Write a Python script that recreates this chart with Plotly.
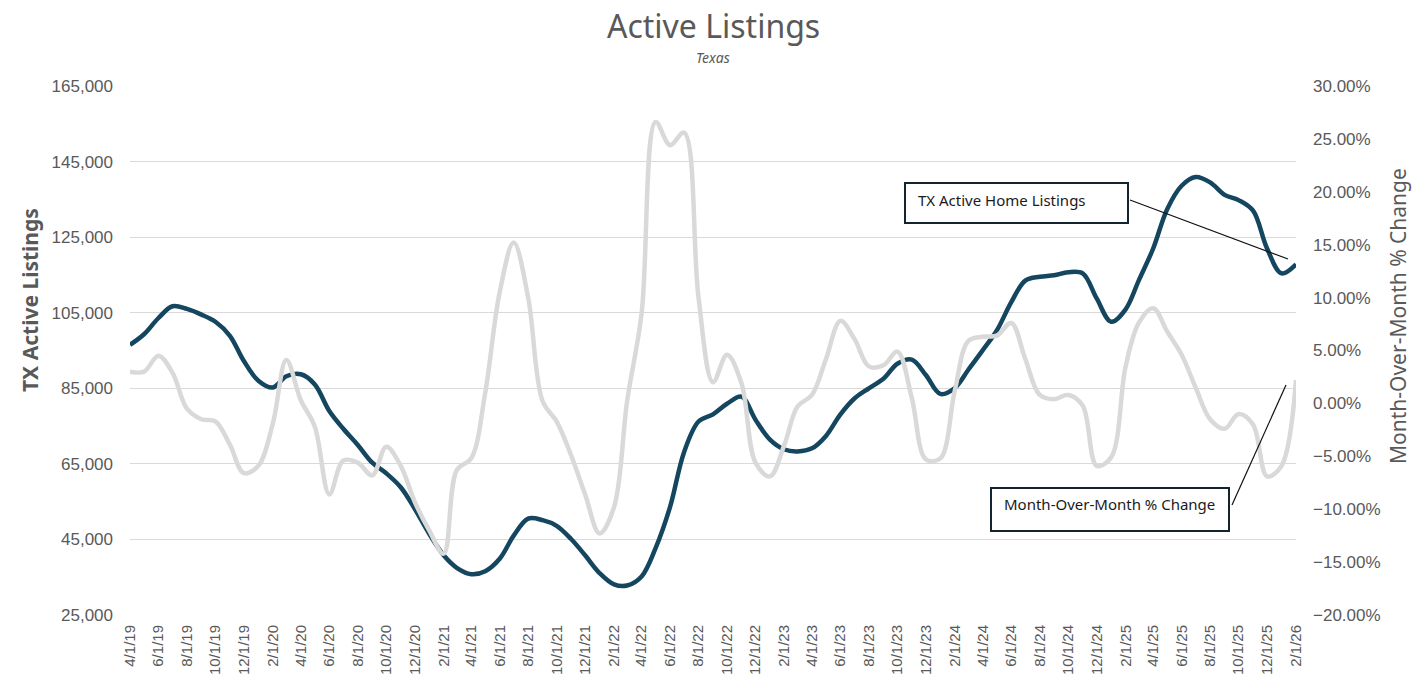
import plotly.graph_objects as go
import pandas as pd

# ---- data ----
dates = pd.date_range("2019-04-01", "2026-02-01", freq="MS")

listings = [96500, 99300, 103600, 106700, 106000, 104500, 102600, 98900, 92200, 87000,
            85200, 88200, 88700, 86000, 79000, 74300, 70000, 65300, 62500, 58800,
            53100, 46500, 40800, 37500, 35800, 36600, 39900, 46000, 50500, 50100,
            48600, 45100, 40800, 36100, 33100, 32800, 35200, 42700, 53600, 68100,
            76200, 78100, 80900, 82800, 76700, 71400, 68800, 68300, 69100, 72400,
            78100, 82300, 85000, 87500, 91500, 92600, 88500, 83500, 85100, 89900,
            95100, 100300, 107800, 113500, 114500, 114900, 115700, 115400, 108800, 102600,
            105900, 113500, 122000, 132400, 138600, 140900, 139500, 136200, 134800, 132000,
            122000, 115400, 117800]

mom_pct = [3.0, 3.0, 4.5, 2.9, -0.5, -1.5, -1.7, -3.9, -6.6, -5.9,
           -1.9, 4.1, 0.3, -2.2, -8.6, -5.4, -5.6, -6.8, -4.1, -5.9,
           -9.3, -12.0, -14.2, -6.3, -5.2, 1.0, 10.5, 15.2, 10.0, 0.2,
           -1.7, -4.9, -8.6, -12.3, -9.8, 0.2, 8.5, 26.6, 24.4, 25.6,
           10.0, 2.0, 4.6, 1.9, -5.6, -6.9, -3.9, -0.3, 0.8, 4.2,
           7.8, 6.1, 3.5, 3.6, 4.9, 0.5, -5.3, -5.2, 1.2, 5.9,
           6.3, 6.4, 7.6, 4.2, 0.8, 0.4, 0.8, -0.2, -5.9, -5.1,
           3.5, 7.6, 9.0, 6.8, 4.6, 1.5, -1.5, -2.4, -1.0, -2.0,
           -6.9, -5.9, 2.2]
mom = [v / 100 for v in mom_pct]

left_ticks = [25000, 45000, 65000, 85000, 105000, 125000, 145000, 165000]
right_ticks = [-0.20, -0.15, -0.10, -0.05, 0.0, 0.05, 0.10, 0.15, 0.20, 0.25, 0.30]
x_ticks = dates[::2]
x_ticktext = [f"{d.month}/{d.day}/{d.strftime('%y')}" for d in x_ticks]

# ---- layout constants ----
W, H = 1420, 694
L, R, T, B = 130, 1296, 86, 615
TXT = "#595959"
DARK = "#154660"
GRAY = "#d9d9d9"
TICKFONT = "Liberation Sans"
MAINFONT = "Noto Sans"


def px(xp):
    return (xp - L) / (R - L)


def py(yp):
    return (B - yp) / (B - T)


fig = go.Figure()
fig.add_trace(go.Scatter(x=dates, y=listings, mode="lines", name="TX Active Home Listings",
                         line=dict(color=DARK, width=4.5, shape="spline"), yaxis="y"))
fig.add_trace(go.Scatter(x=dates, y=mom, mode="lines", name="Month-Over-Month % Change",
                         line=dict(color=GRAY, width=4.5, shape="spline"), yaxis="y2"))

shapes = [
    dict(type="rect", xref="paper", yref="paper", x0=px(905), x1=px(1128), y0=py(223), y1=py(183),
         line=dict(color="#14242e", width=2), fillcolor="white", layer="above"),
    dict(type="rect", xref="paper", yref="paper", x0=px(991), x1=px(1229), y0=py(531), y1=py(488),
         line=dict(color="#14242e", width=2), fillcolor="white", layer="above"),
    dict(type="line", xref="paper", yref="paper", x0=px(1130), y0=py(200), x1=px(1288), y1=py(259),
         line=dict(color="#111111", width=1.2), layer="above"),
    dict(type="line", xref="paper", yref="paper", x0=px(1232), y0=py(505), x1=px(1286), y1=py(385),
         line=dict(color="#111111", width=1.2), layer="above"),
]

annotations = [
    dict(text="TX Active Home Listings", xref="paper", yref="paper", x=px(916), y=py(200),
         xanchor="left", yanchor="middle", showarrow=False,
         font=dict(family=MAINFONT, size=15, color="#1a1a1a")),
    dict(text="Month-Over-Month % Change", xref="paper", yref="paper", x=px(1002), y=py(504),
         xanchor="left", yanchor="middle", showarrow=False,
         font=dict(family=MAINFONT, size=15, color="#1a1a1a")),
    dict(text="<b>TX Active Listings</b>", xref="paper", yref="paper", x=px(30), y=py(300),
         xanchor="center", yanchor="middle", textangle=-90, showarrow=False,
         font=dict(family=MAINFONT, size=21, color=TXT)),
    dict(text="Month-Over-Month % Change", xref="paper", yref="paper", x=px(1398), y=py(316),
         xanchor="center", yanchor="middle", textangle=-90, showarrow=False,
         font=dict(family=MAINFONT, size=21, color=TXT)),
    dict(text="Active Listings", xref="paper", yref="paper", x=px(713), y=py(25),
         xanchor="center", yanchor="middle", showarrow=False,
         font=dict(family=MAINFONT, size=32, color=TXT)),
    dict(text="<i>Texas</i>", xref="paper", yref="paper", x=px(713), y=py(58),
         xanchor="center", yanchor="middle", showarrow=False,
         font=dict(family=MAINFONT, size=14, color=TXT)),
]

fig.update_layout(
    width=W, height=H,
    margin=dict(l=L, r=W - R, t=T, b=H - B, autoexpand=False),
    paper_bgcolor="white", plot_bgcolor="white",
    showlegend=False,
    shapes=shapes, annotations=annotations,
    xaxis=dict(range=[dates[0], dates[-1]], tickmode="array", tickvals=list(x_ticks),
               ticktext=x_ticktext, tickangle=-90, showgrid=False, zeroline=False,
               showline=False, ticks="", ticklabelstandoff=6,
               tickfont=dict(family=TICKFONT, size=15, color=TXT)),
    yaxis=dict(range=[25000, 165000], tickmode="array", tickvals=left_ticks,
               tickformat=",d", showgrid=True, gridcolor=GRAY, gridwidth=1,
               zeroline=False, showline=False, ticks="", ticklabelstandoff=16,
               tickfont=dict(family=TICKFONT, size=17, color=TXT)),
    yaxis2=dict(range=[-0.20, 0.30], tickmode="array", tickvals=right_ticks,
                tickformat=".2%", overlaying="y", side="right", showgrid=False,
                zeroline=False, showline=False, ticks="", ticklabelstandoff=16,
                tickfont=dict(family=TICKFONT, size=17, color=TXT)),
)

fig.write_html("out.html", config={"displayModeBar": False},
               post_script="document.body.style.margin='0';document.body.style.overflow='hidden';")
